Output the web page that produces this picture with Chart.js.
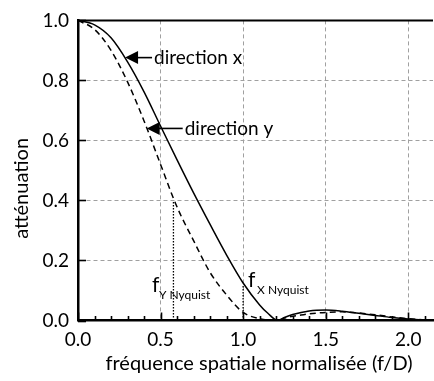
<!DOCTYPE html>
<html><head><meta charset="utf-8">
<script src="https://cdn.jsdelivr.net/npm/chart.js@4"></script>
<style>html,body{margin:0;padding:0;background:#fff}#wrap{width:434px;height:381px;position:relative}</style>
</head><body><div id="wrap"><canvas id="c"></canvas></div>
<script>
// ---- data ----
const freqX = [0,0.1,0.2,0.3,0.4,0.5,0.6,0.7,0.8,0.9,1.0,1.1,1.15,1.21,1.25,1.3,1.4,1.5,1.6,1.7,1.8,1.9,2.0,2.1,2.15];
const directionX = [1.0,0.985,0.942,0.862,0.762,0.648,0.535,0.425,0.32,0.218,0.125,0.052,0.024,0.0,0.01,0.02,0.032,0.035,0.031,0.024,0.017,0.01,0.005,0.002,0.001];
const freqY = [0,0.1,0.2,0.3,0.4,0.5,0.6,0.7,0.8,0.9,1.0,1.1,1.2,1.25,1.3,1.35,1.4,1.5,1.6,1.7,1.8,1.9,2.0,2.1,2.15];
const directionY = [1.0,0.97,0.9,0.795,0.665,0.52,0.378,0.266,0.16,0.085,0.027,0.006,0.0,0.008,0.014,0.018,0.022,0.027,0.029,0.025,0.019,0.012,0.006,0.002,0.001];
const nyquistY = [0.578, 0.40];   // f, attenuation at top of dotted line
const nyquistX = [1.0, 0.12];
const xTickValues = [0.0,0.5,1.0,1.5,2.0];
const yTickValues = [0.0,0.2,0.4,0.6,0.8,1.0];
const labelsText = {x:'direction x', y:'direction y', ax:'fréquence spatiale normalisée (f/D)', ay:'atténuation'};

const FONT = 'Lato, "Open Sans", sans-serif';
const pts = (xs, ys) => xs.map((x,i)=>({x, y: ys[i]}));
const isMajor = v => Math.abs(v*2 - Math.round(v*2)) < 1e-6;

const deco = {
  id:'deco',
  afterDatasetsDraw(chart){
    const {ctx, chartArea:a, scales:{x, y}} = chart;
    ctx.save();
    ctx.strokeStyle = '#000'; ctx.fillStyle = '#000';
    // inward ticks
    ctx.lineWidth = 1.6;
    for (let i=0;i<=21;i++){
      const v = i/10, px = Math.round(x.getPixelForValue(v))+0.5;
      const len = isMajor(v) ? 8 : 4.5;
      ctx.beginPath(); ctx.moveTo(px, a.bottom); ctx.lineTo(px, a.bottom-len); ctx.stroke();
    }
    yTickValues.forEach(v=>{
      const py = Math.round(y.getPixelForValue(v))+0.5;
      ctx.beginPath(); ctx.moveTo(a.left, py); ctx.lineTo(a.left+8, py); ctx.stroke();
    });
    // top border
    ctx.lineWidth = 2;
    ctx.beginPath(); ctx.moveTo(a.left, a.top); ctx.lineTo(a.right, a.top); ctx.stroke();
    // arrows
    const arrow = (vx, vy, len, text) => {
      const tx = x.getPixelForValue(vx), ty = y.getPixelForValue(vy);
      ctx.beginPath(); ctx.moveTo(tx, ty); ctx.lineTo(tx+13, ty-6.5); ctx.lineTo(tx+13, ty+6.5); ctx.closePath(); ctx.fill();
      ctx.lineWidth = 1.6;
      ctx.beginPath(); ctx.moveTo(tx+12, ty); ctx.lineTo(tx+len, ty); ctx.stroke();
      ctx.font = '19px ' + FONT; ctx.textBaseline = 'middle'; ctx.textAlign = 'left';
      ctx.fillText(text, tx+len+2, ty);
    };
    arrow(0.285, 0.876, 27, labelsText.x);
    arrow(0.416, 0.64, 36, labelsText.y);
    // Nyquist labels
    const nyq = (vx, vy, sub, gap) => {
      const px = x.getPixelForValue(vx), py = y.getPixelForValue(vy);
      ctx.textBaseline = 'alphabetic'; ctx.textAlign = 'left';
      ctx.font = '21px ' + FONT; ctx.fillText('f', px, py);
      ctx.font = '12px ' + FONT; ctx.fillText(sub, px + gap, py + 7);
    };
    nyq(0.448, 0.094, 'Y Nyquist', 7);
    nyq(1.03, 0.11, 'X Nyquist', 9);
    // axis titles
    ctx.font = '20px ' + FONT; ctx.textAlign = 'center'; ctx.textBaseline = 'middle';
    ctx.fillText(labelsText.ax, a.left + 181, a.bottom + 43);
    ctx.save(); ctx.translate(22, a.top + 168); ctx.rotate(-Math.PI/2);
    ctx.fillText(labelsText.ay, 0, 0); ctx.restore();
    ctx.restore();
  }
};

new Chart(document.getElementById('c'), {
  type:'line',
  data:{datasets:[
    {label:'direction x', data:pts(freqX, directionX), borderColor:'#000', borderWidth:1.5, pointRadius:0, cubicInterpolationMode:'monotone', fill:false},
    {label:'direction y', data:pts(freqY, directionY), borderColor:'#000', borderWidth:1.5, borderDash:[6,4], pointRadius:0, cubicInterpolationMode:'monotone', fill:false},
    {label:'fY', data:[{x:nyquistY[0],y:0},{x:nyquistY[0],y:nyquistY[1]}], borderColor:'#000', borderWidth:1.3, borderDash:[1.5,1.5], pointRadius:0},
    {label:'fX', data:[{x:nyquistX[0],y:0},{x:nyquistX[0],y:nyquistX[1]}], borderColor:'#000', borderWidth:1.3, borderDash:[1.5,1.5], pointRadius:0}
  ]},
  options:{
    responsive:true, maintainAspectRatio:false, animation:false,
    layout:{padding:{top:17, right:1, left:0, bottom:0}},
    plugins:{legend:{display:false}, tooltip:{enabled:false}},
    scales:{
      x:{type:'linear', min:0, max:2.15,
        afterFit:s=>{s.height = 60.5;},
        afterBuildTicks:s=>{ s.ticks = []; for(let i=0;i<=21;i++) s.ticks.push({value:i/10}); },
        ticks:{autoSkip:false, maxRotation:0, padding:8, color:'#000', font:{family:FONT, size:19},
          callback:v=> isMajor(v) ? v.toFixed(1) : ''},
        grid:{drawTicks:false, lineWidth:1, color:c=> (c.tick && isMajor(c.tick.value) && c.tick.value>0) ? '#a0a0a0' : 'rgba(0,0,0,0)'},
        border:{display:true, color:'#000', width:2.5, dash:[4,3]}
      },
      y:{type:'linear', min:0, max:1.0,
        afterFit:s=>{s.width = 78;},
        afterBuildTicks:s=>{ s.ticks = yTickValues.map(v=>({value:v})); },
        ticks:{padding:9, color:'#000', font:{family:FONT, size:19}, callback:v=>v.toFixed(1)},
        grid:{drawTicks:false, lineWidth:1, color:c=> (c.tick && c.tick.value>0 && c.tick.value<1) ? '#a0a0a0' : 'rgba(0,0,0,0)'},
        border:{display:true, color:'#000', width:2.5, dash:[4,3]}
      }
    }
  },
  plugins:[deco]
});
</script></body></html>
